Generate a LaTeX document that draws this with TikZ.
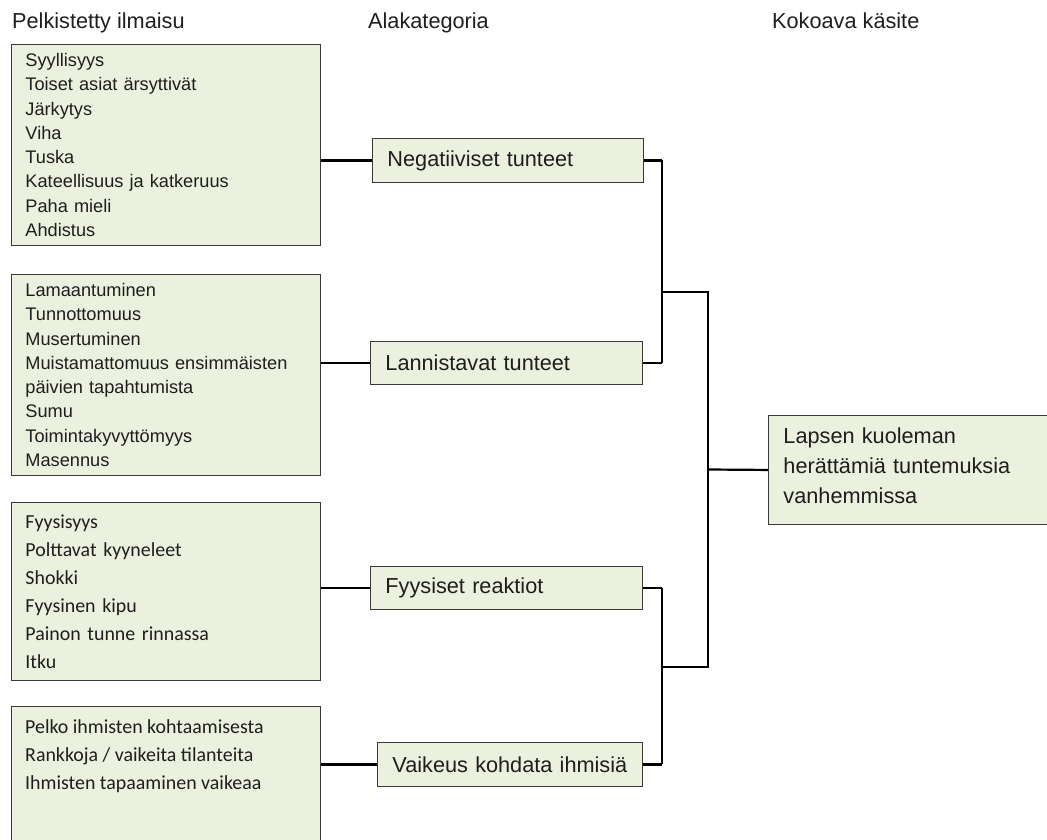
\documentclass[tikz,border=0pt]{standalone}
\usepackage{fontspec}
\setmainfont{Liberation Sans}
\newfontfamily\calfont{Carlito}
\definecolor{boxfill}{HTML}{EBF1DE}
\definecolor{boxline}{HTML}{3A3A3A}
\definecolor{txt}{HTML}{1E1E1E}
\begin{document}
\begin{tikzpicture}[x=1pt,y=-1pt,
  basebox/.style={draw=boxline, line width=0.9pt, fill=boxfill, anchor=north west,
    inner ysep=0pt, align=left, text=txt},
  itembox/.style={basebox, inner xsep=14pt},
  arialitem/.style={font=\fontsize{18.2}{24.3}\selectfont},
  calitem/.style={font=\calfont\fontsize{19.9}{28}\selectfont},
  catbox/.style={basebox, inner xsep=15pt, font=\fontsize{21.7}{30}\selectfont},
  head/.style={anchor=base west, inner sep=0pt, text=txt, font=\fontsize{21.7}{26}\selectfont},
  conn/.style={draw=black, line width=2.8pt},
  joinline/.style={draw=black, line width=2.2pt}
]
\useasboundingbox (0,0) rectangle (1047,840);

% headers
\node[head] (h1) at (12,28.3) {Pelkistetty ilmaisu};
\node[head] (h2) at (368,28.3) {Alakategoria};
\node[head] (h3) at (772,28.3) {Kokoava käsite};

% left boxes
\node[itembox, arialitem, text width=281pt, minimum height=201pt] (b1) at (11,44)
  {Syyllisyys\\Toiset asiat ärsyttivät\\Järkytys\\Viha\\Tuska\\Kateellisuus ja katkeruus\\Paha mieli\\Ahdistus};
\node[itembox, arialitem, text width=281pt, minimum height=201pt] (b2) at (11,274)
  {Lamaantuminen\\Tunnottomuus\\Musertuminen\\Muistamattomuus ensimmäisten\\päivien tapahtumista\\Sumu\\Toimintakyvyttömyys\\Masennus};
\node[itembox, calitem, text width=281pt, minimum height=178pt] (b3) at (11,502)
  {Fyysisyys\\Polttavat kyyneleet\\Shokki\\Fyysinen kipu\\Painon tunne rinnassa\\Itku};
\node[itembox, text width=281pt, minimum height=160pt] (b4) at (11,706) {};
\node[anchor=north west, inner sep=0pt, align=left, text=txt, calitem] (b4t) at (25,719)
  {Pelko ihmisten kohtaamisesta\\Rankkoja / vaikeita tilanteita\\Ihmisten tapaaminen vaikeaa};

% category boxes
\node[catbox, text width=241pt, minimum height=44pt] (n1) at (372,138) {Negatiiviset tunteet};
\node[catbox, text width=242pt, minimum height=43pt] (n2) at (370,341) {Lannistavat tunteet};
\node[catbox, text width=242pt, minimum height=43pt] (n3) at (370,566) {Fyysiset reaktiot};
\node[catbox, text width=235pt, minimum height=44pt] (n4) at (377,742) {Vaikeus kohdata ihmisiä};

% final box
\node[catbox, text width=262pt, minimum height=109pt] (n5) at (768,415)
  {Lapsen kuoleman\\herättämiä tuntemuksia\\vanhemmissa\strut};

% connectors left -> category
\draw[conn] (n1.west) -- (n1.west -| b1.east);
\draw[conn] (n2.west) -- (n2.west -| b2.east);
\draw[conn] (n3.west) -- (n3.west -| b3.east);
\draw[conn] (n4.west) -- (n4.west -| b4.east);

% joins
\coordinate (j1) at (662,292);
\coordinate (j2) at (662,667);
\coordinate (j3) at (708,469.5);
\draw[conn] (n1.east) -- (n1.east -| j1);
\draw[conn] (n2.east) -- (n2.east -| j1);
\draw[joinline] (n1.east -| j1) -- (n2.east -| j1);
\draw[conn] (n3.east) -- (n3.east -| j2);
\draw[conn] (n4.east) -- (n4.east -| j2);
\draw[joinline] (n3.east -| j2) -- (n4.east -| j2);
\draw[joinline] (j1) -| (j3);
\draw[joinline] (j2) -| (j3);
\draw[joinline] (j3) -- (n5.west);
\end{tikzpicture}
\end{document}
